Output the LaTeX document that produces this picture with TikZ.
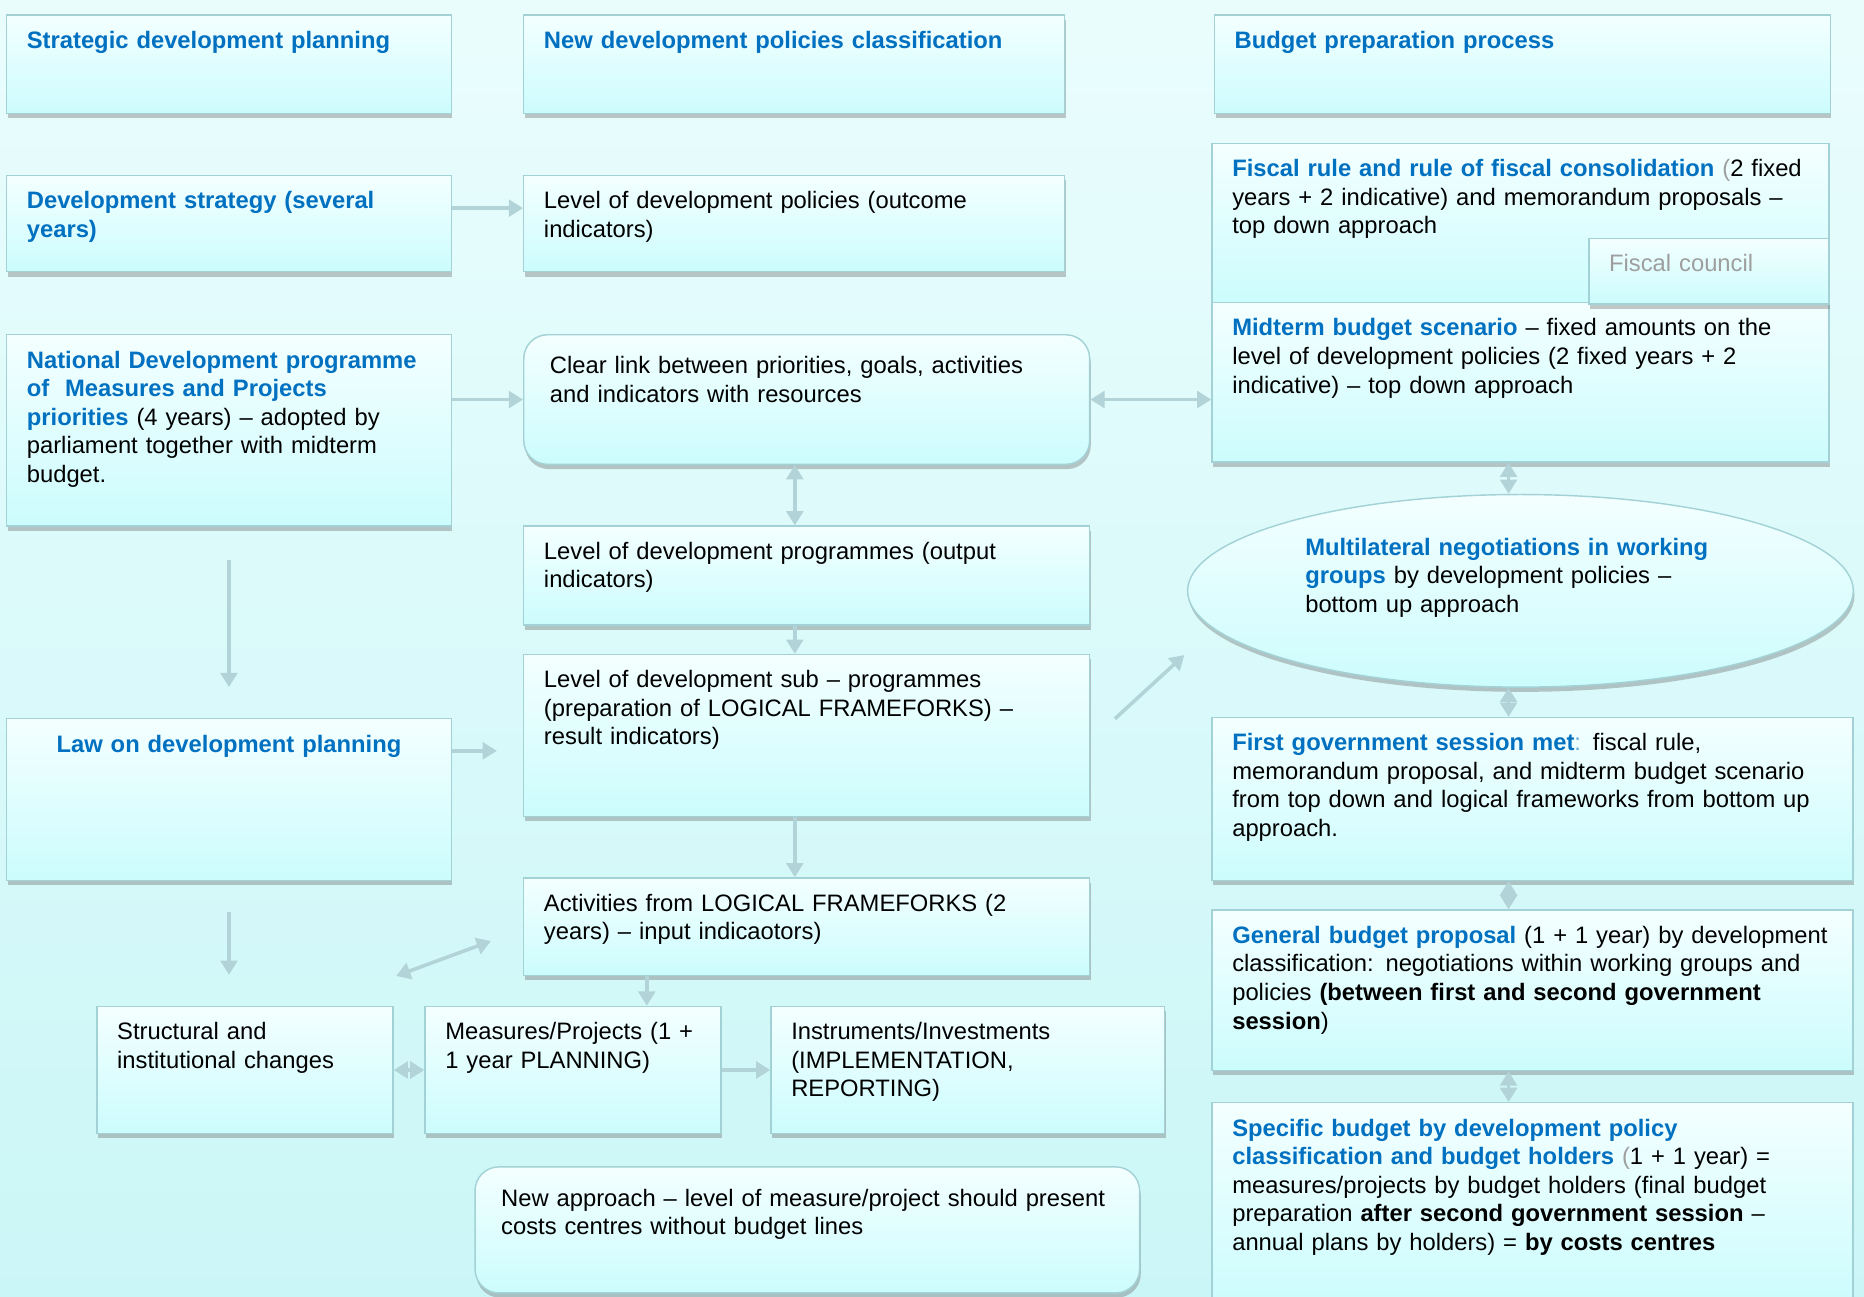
\documentclass[tikz,border=0pt]{standalone}
\usepackage{fontspec}
\setmainfont{Liberation Sans}
\usepackage{tikz}
\usetikzlibrary{arrows.meta,shapes.geometric,shadows}

\newcommand{\bluebf}[1]{{\color{color6}\bfseries #1}}

\begin{document}
\begin{tikzpicture}[x=1pt,y=-1pt,
	every node/.style={font=\fontsize{20}{24}\selectfont},
	shdw/.style={drop shadow={shadow xshift=1pt,shadow yshift=-4pt,opacity=0.4,fill=black!55}},
	box/.style 2 args={draw=color5, line width=1.2pt, top color=color3, bottom color=color4, shdw,
		anchor=north west, align=left, inner xsep=17pt, inner ysep=14pt,
		minimum width=#1pt, minimum height=#2pt, text width=#1pt-34pt,
		text height=14pt, text depth=#2pt-42pt},
	rbox/.style 2 args={box={#1}{#2}, rounded corners=20pt, inner xsep=22pt,
		text width=#1pt-44pt, text height=19pt, text depth=#2pt-47pt},
	ell/.style={shape=ellipse, draw=color5, line width=1.2pt, top color=color3, bottom color=color4, shdw,
		align=left, inner sep=4pt, minimum width=560pt, minimum height=162pt,
		text width=362pt, text height=14pt, text depth=74pt},
	arr/.style={-{Triangle[length=12pt,width=14pt]}, line width=3pt, draw=color7},
	darr/.style={{Triangle[length=12pt,width=14pt]}-{Triangle[length=12pt,width=14pt]}, line width=3pt, draw=color7}]
	\definecolor{color1}{HTML}{EAFDFD}
	\definecolor{color2}{HTML}{CBF6F7}
	\definecolor{color3}{HTML}{F4FFFF}
	\definecolor{color4}{HTML}{CCFCFD}
	\definecolor{color5}{HTML}{A3D2D6}
	\definecolor{color6}{HTML}{0070C0}
	\definecolor{color7}{HTML}{B2D3D8}
	\definecolor{color8}{HTML}{9E9E9E}
	\useasboundingbox (0,0) rectangle (1568,1091);
	\fill[top color=color1, bottom color=color2] (0,0) rectangle (1568,1091);
	%% Headers ------
	\node[box={374}{83}] (strat) at (5,12) {\bluebf{Strategic development planning}};
	\node[box={455}{83}] (newdev) at (440,12) {\bluebf{New development policies classification}};
	\node[box={518}{83}] (budprep) at (1021,12) {\bluebf{Budget preparation process}};
	%% Left column ------
	\node[box={374}{81}] (devstrat) at (5,147) {\bluebf{Development strategy (several\\years)}};
	\node[box={374}{161}] (natprog) at (5,281) {\bluebf{National Development programme\\of \ Measures and Projects\\priorities} (4 years) – adopted by\\parliament together with midterm\\budget.};
	\node[box={374}{136}, align=center] (law) at (5,604) {\bluebf{Law on development planning}};
	%% Middle column ------
	\node[box={455}{81}] (levpol) at (440,147) {Level of development policies (outcome\\indicators)};
	\node[rbox={476}{109}] (clear) at (440,281) {Clear link between priorities, goals, activities\\and indicators with resources};
	\node[box={476}{83}] (levprog) at (440,442) {Level of development programmes (output\\indicators)};
	\node[box={476}{136}] (subprog) at (440,550) {Level of development sub – programmes\\(preparation of LOGICAL FRAMEFORKS) –\\result indicators)};
	\node[box={476}{82}] (activ) at (440,738) {Activities from LOGICAL FRAMEFORKS (2\\years) – input indicaotors)};
	\node[box={249}{107}] (struct) at (81,846) {Structural and\\institutional changes};
	\node[box={249}{107}] (meas) at (357,846) {Measures/Projects (1 +\\1 year PLANNING)};
	\node[box={331}{107}] (instr) at (648,846) {Instruments/Investments\\(IMPLEMENTATION,\\REPORTING)};
	\node[rbox={559}{106}] (newapp) at (399,981) {New approach – level of measure/project should present\\costs centres without budget lines};
	%% Right column ------
	\node[box={519}{134}] (fiscal) at (1019,120) {\bluebf{Fiscal rule and rule of fiscal consolidation} {\color{color8}(}2 fixed\\years + 2 indicative) and memorandum proposals –\\top down approach};
	\node[box={519}{134}] (midterm) at (1019,254) {\bluebf{Midterm budget scenario} – fixed amounts on the\\level of development policies (2 fixed years + 2\\indicative) – top down approach};
	\node[box={202}{55}] (fiscouncil) at (1336,200) {\color{color8}Fiscal council};
	\node[ell] (multi) at (1279,497) {\bluebf{Multilateral negotiations in working\\groups} by development policies –\\bottom up approach};
	\node[box={539}{137}] (firstgov) at (1019,603) {\bluebf{First government session met}{\color{color6!60}:} fiscal rule,\\memorandum proposal, and midterm budget scenario\\from top down and logical frameworks from bottom up\\approach.};
	\node[box={539}{135}] (genbud) at (1019,765) {\bluebf{General budget proposal} (1 + 1 year) by development\\classification: negotiations within working groups and\\policies \textbf{(between first and second government\\session})};
	\node[box={539}{170}] (specbud) at (1019,927) {\bluebf{Specific budget by development policy\\classification and budget holders} {\color{color8}(}1 + 1 year) =\\measures/projects by budget holders (final budget\\preparation \textbf{after second government session} –\\annual plans by holders) = \textbf{by costs centres}};
	\coordinate (rc) at ([xshift=-10pt]multi.center);
	%% Edges ---------
	\draw[arr] ([yshift=13pt]devstrat.east) -- ([yshift=13pt]levpol.west);
	\draw[arr] (natprog.east |- clear.west) -- (clear.west);
	\draw[arr, shorten <=28pt, shorten >=26pt] (natprog) -- (law);
	\draw[arr, shorten >=22pt] ([yshift=-13pt]law.east |- subprog.west) -- ([yshift=-13pt]subprog.west);
	\draw[arr, shorten <=26pt, shorten >=26pt] (law.south) -- (law.south |- struct.north);
	\draw[darr] (clear.east) -- (clear.east -| midterm.west);
	\draw[darr] ([xshift=-10pt]clear.south) -- ([xshift=-10pt]levprog.north);
	\draw[arr] ([xshift=-10pt]levprog.south) -- ([xshift=-10pt]subprog.north);
	\draw[arr] ([xshift=-10pt]subprog.south) -- ([xshift=-10pt]activ.north);
	\draw[arr, shorten <=28pt, shorten >=33pt] ([yshift=-5pt]subprog.east) -- (multi.187.5);
	\draw[darr] ([shift={(2,-25)}]struct.north east) -- ([shift={(-27,12)}]activ.west);
	\draw[arr] ([xshift=62pt]meas.north |- activ.south) -- ([xshift=62pt]meas.north);
	\draw[darr] (struct) -- (meas);
	\draw[arr] (meas) -- (instr);
	\draw[darr] (midterm.south -| rc) -- (multi.north -| rc);
	\draw[darr] (multi.south -| rc) -- (firstgov.north -| rc);
	\draw[darr] (firstgov.south -| rc) -- (genbud.north -| rc);
	\draw[darr] (genbud.south -| rc) -- (specbud.north -| rc);
\end{tikzpicture}
\end{document}
